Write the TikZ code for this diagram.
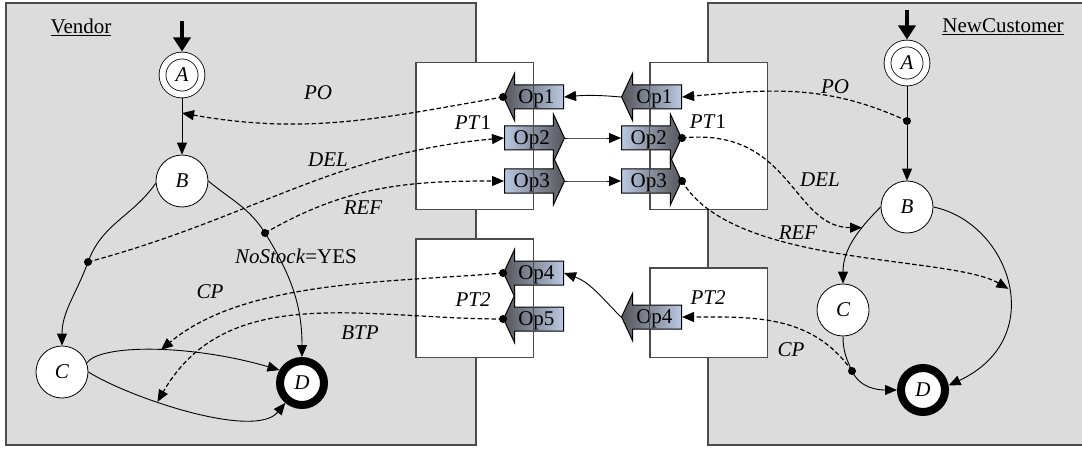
\documentclass[tikz,border=0pt]{standalone}
\usepackage{fontspec}
\setmainfont{Liberation Serif}
\usetikzlibrary{shapes.arrows,arrows.meta}
\newcommand{\figsize}{\fontsize{21}{24}\selectfont}
\definecolor{panelgray}{RGB}{220,220,220}
\definecolor{opdark}{RGB}{85,85,90}
\definecolor{oplight}{RGB}{185,200,225}
\tikzset{
	state/.style={draw,circle,fill=white,minimum size=52pt,inner sep=0pt,line width=0.8pt,font=\figsize\itshape},
	initstate/.style={state,minimum size=39pt,double,double distance=6pt,outer sep=4pt},
	finalstate/.style={state,minimum size=44pt,line width=8pt},
	dot/.style={circle,fill,inner sep=0pt,minimum size=8pt},
	opbox/.style={single arrow,draw,line width=1pt,single arrow head extend=12pt,single arrow tip angle=130,minimum height=60pt,text height=14pt,text depth=1pt,inner ysep=4pt,inner xsep=1pt},
	opleft/.style={opbox,shape border rotate=180,left color=opdark,right color=oplight},
	opright/.style={opbox,left color=oplight,right color=opdark},
	msg/.style={dash pattern=on 4.5pt off 2.5pt,line width=1.2pt,-{Triangle[length=12pt,width=10pt]}},
	trans/.style={line width=0.9pt,-{Triangle[length=12pt,width=10pt]}},
	startarr/.style={line width=4pt,-{Triangle[length=14pt,width=17pt]}},
	panel/.style={draw=black!70,fill=panelgray,line width=1.5pt},
	ptbox/.style={draw=black!70,fill=white,line width=1pt,minimum width=117pt,inner sep=0pt},
	ptline/.style={draw=black!70,line width=1pt},
	lbl/.style={font=\figsize\itshape}
}
\begin{document}
\begin{tikzpicture}[x=1pt,y=1pt,font=\figsize]
	\useasboundingbox (0,0) rectangle (1082,448);
	\draw [panel] (6,3) rectangle (476,445);
	\draw [panel] (708,3) rectangle (1095,445);
	\node [ptbox,minimum height=146pt] at (474.5,312) (pt1L) {};
	\node [ptbox,minimum height=146pt] at (708.5,312) (pt1R) {};
	\node [ptbox,minimum height=118pt] at (474.5,150) (pt2L) {};
	\node [ptbox,minimum height=89pt] at (708.5,135.5) (pt2R) {};

	\node at (81,421) (vName) {\underline{Vendor}};
	\node at (1003,421) (cName) {\underline{NewCustomer}};

	\node [initstate] at (182,373) (vA) {A};
	\node [state] at (182,267) (vB) {B};
	\node [state] at (62,76) (vC) {C};
	\node [finalstate] at (302,65) (vD) {D};
	\node [dot] at (88,186) (vdC) {};
	\node [dot] at (265,215) (vdD) {};
	\coordinate (vS) at (182,427);

	\node [initstate] at (907,385) (cA) {A};
	\node [state] at (907,241) (cB) {B};
	\node [state] at (843,138) (cC) {C};
	\node [finalstate] at (923,58) (cD) {D};
	\node [dot] at (907,327) (cdPO) {};
	\node [dot] at (852,77) (cdCP) {};
	\coordinate (cS) at (907,438);

	\node [opleft,anchor=tip] at (503,351) (op1L) {Op1};
	\node [opright,anchor=tail] at (504,310) (op2L) {Op2};
	\node [opright,anchor=tail] at (504,267) (op3L) {Op3};
	\node [opleft,anchor=tip] at (621,351) (op1R) {Op1};
	\node [opright,anchor=tail] at (621,310) (op2R) {Op2};
	\node [opright,anchor=tail] at (621,267) (op3R) {Op3};
	\node [opleft,anchor=tip] at (503,175) (op4L) {Op4};
	\node [opleft,anchor=tip] at (503,129) (op5L) {Op5};
	\node [opleft,anchor=tip] at (621,131) (op4R) {Op4};
	\draw [ptline] (pt1L.south west) rectangle (pt1L.north east);
	\draw [ptline] (pt1R.south west) rectangle (pt1R.north east);
	\draw [ptline] (pt2L.south west) rectangle (pt2L.north east);
	\draw [ptline] (pt2R.south west) rectangle (pt2R.north east);
	\node [dot] at (op1L.tip) (d1L) {};
	\node [dot] at (op2R.tip) (d2R) {};
	\node [dot] at (op3R.tip) (d3R) {};
	\node [dot] at (op4L.tip) (d4L) {};
	\node [dot] at (op5L.tip) (d5L) {};

	\draw [startarr] (vS) -- (vA);
	\draw [trans] (vA) -- coordinate [pos=0.26] (vPOend) (vB);
	\draw [trans] (vB.185) to [out=235,in=70] (vdC.center) to [out=250,in=90] (vC);
	\draw [trans] (vB.east) to [out=-40,in=122] (vdD.center) to [out=-58,in=90] (vD);
	\draw [trans] (vC.20) .. controls (100,104) and (190,104) .. (vD.150) coordinate [pos=0.53] (vCPend);
	\draw [trans] (vC.east) .. controls (130,50) and (255,8) .. (vD.230) coordinate [pos=0.36] (vBTPend);

	\draw [startarr] (cS) -- (cA);
	\draw [trans] (cA) -- (cB);
	\draw [trans] (cB.west) to [out=225,in=90] coordinate [pos=0.3] (cDELend) (cC);
	\draw [trans] (cB.east) .. controls (1010,225) and (1050,110) .. (cD.10) coordinate [pos=0.52] (cREFend);
	\draw [trans] (cC.south) to [out=-90,in=115] (cdCP.center) to [out=-65,in=180] (cD.west);

	\draw [trans] (op1R.tip) to [out=175,in=5] (op1L.tail);
	\draw [trans] (op2L.tip) to [out=0,in=180] (op2R.tail);
	\draw [trans] (op3L.tip) to [out=0,in=180] (op3R.tail);
	\draw [trans] (op4R.tip) to [out=135,in=-20] (op4L.tail);

	\draw [msg] (d1L.center) to [out=190,in=-10] (vPOend);
	\draw [msg] (vdC.center) to [out=15,in=185] (op2L.tail);
	\draw [msg] (vdD.center) to [out=30,in=180] (op3L.tail);
	\draw [msg] (d4L.center) to [out=185,in=40,looseness=0.8] (vCPend);
	\draw [msg] (d5L.center) to [out=180,in=60] (vBTPend);
	\draw [msg] (cdPO.center) to [out=155,in=5] (op1R.tail);
	\draw [msg] (d2R.center) to [out=6,in=180,out distance=110pt,in distance=70pt] (cDELend);
	\draw [msg] (d3R.center) to [out=-60,in=150,out distance=100pt,in distance=68pt] (cREFend);
	\draw [msg] (cdCP.center) to [out=125,in=0] (op4R.tail);

	\node [lbl] at (318,355) (lPOv) {PO};
	\node [lbl] at (328,288) (lDELv) {DEL};
	\node [lbl] at (363,240) (lREFv) {REF};
	\node at (296,192) (lStock) {\textit{NoStock}=YES};
	\node [lbl] at (210,156) (lCPv) {CP};
	\node [lbl] at (360,115) (lBTPv) {BTP};
	\node [lbl] at (835,361) (lPOc) {PO};
	\node [lbl] at (820,268) (lDELc) {DEL};
	\node [lbl] at (798,215) (lREFc) {REF};
	\node [lbl] at (791,98) (lCPc) {CP};
	\node at (473,325) (lPT1L) {\textit{PT}1};
	\node at (708,326) (lPT1R) {\textit{PT}1};
	\node [lbl] at (473,148) (lPT2L) {PT2};
	\node [lbl] at (708,150) (lPT2R) {PT2};
\end{tikzpicture}
\end{document}
